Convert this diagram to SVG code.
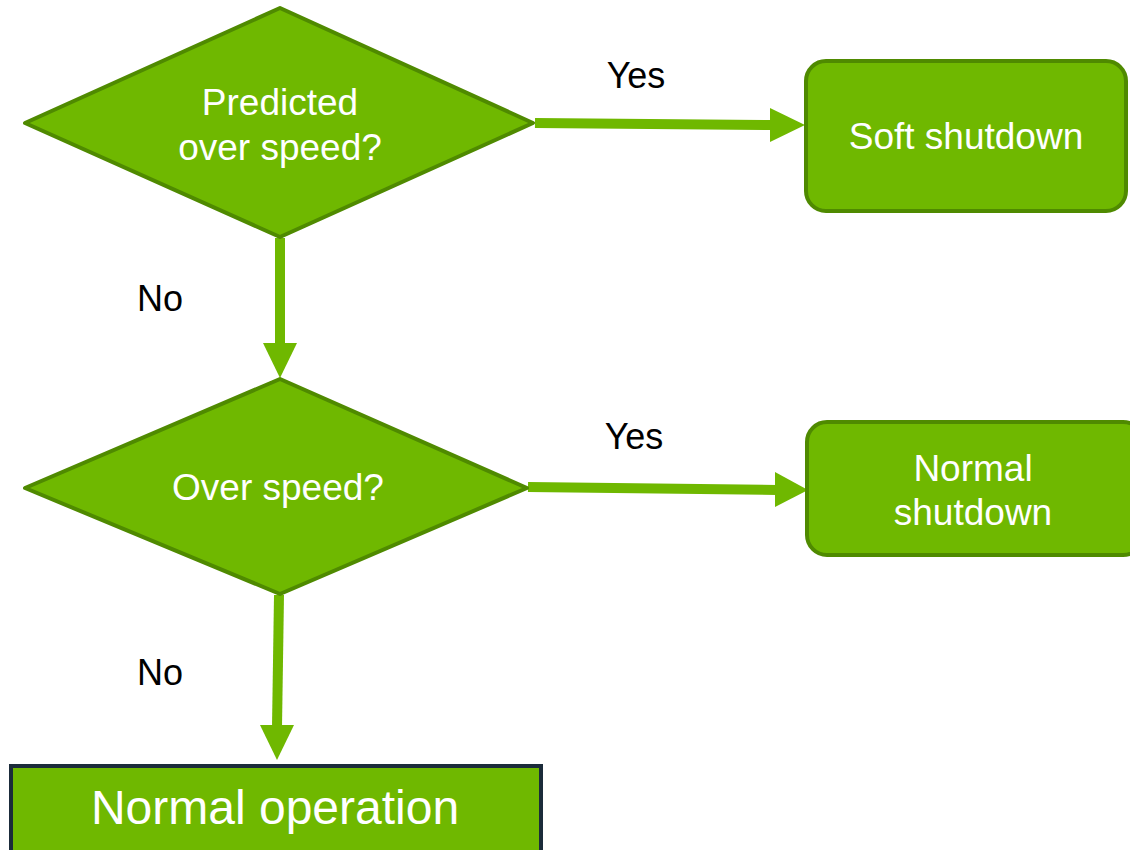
<svg xmlns="http://www.w3.org/2000/svg" width="1130" height="850" viewBox="0 0 1130 850">
<style>
.shape{fill:#6fb800;stroke:#4f8a00;stroke-width:4;stroke-linejoin:round}
.wt{font-family:"Liberation Sans",Arial,sans-serif;font-size:37px;fill:#ffffff;text-anchor:middle}
.lbl{font-family:"Liberation Sans",Arial,sans-serif;font-size:36px;fill:#000000;text-anchor:middle}
.conn{stroke:#6fb800;stroke-width:10;fill:none}
.head{fill:#6fb800}
</style>
<rect width="1130" height="850" fill="#ffffff"/>
<g id="connectors">
<line class="conn" x1="535" y1="123" x2="772" y2="125"/>
<polygon class="head" points="770,108 805,125 770,142"/>
<line class="conn" x1="280" y1="238" x2="280" y2="345"/>
<polygon class="head" points="263,343 297,343 280,378"/>
<line class="conn" x1="528" y1="487" x2="777" y2="490"/>
<polygon class="head" points="775,472 808,490 775,507"/>
<line class="conn" x1="279" y1="595" x2="277" y2="727"/>
<polygon class="head" points="260,725 294,725 277,760"/>
<text class="lbl" x="636" y="88">Yes</text>
<text class="lbl" x="160" y="311">No</text>
<text class="lbl" x="634" y="449">Yes</text>
<text class="lbl" x="160" y="685">No</text>
</g>
<g id="d1">
<polygon class="shape" points="25,123 280,8 533,123 280,237"/>
<text class="wt" x="280" y="115">Predicted</text>
<text class="wt" x="280" y="160">over speed?</text>
</g>
<g id="soft">
<rect class="shape" x="806" y="61" width="320" height="150" rx="20"/>
<text class="wt" x="966" y="149">Soft shutdown</text>
</g>
<g id="d2">
<polygon class="shape" points="25,488 280,379 527,488 280,594"/>
<text class="wt" x="278" y="500">Over speed?</text>
</g>
<g id="normalshut">
<rect class="shape" x="807" y="422" width="336" height="133" rx="20"/>
<text class="wt" x="973" y="481">Normal</text>
<text class="wt" x="973" y="525">shutdown</text>
</g>
<g id="normalop">
<rect x="11" y="766" width="530" height="100" fill="#6fb800" stroke="#1b2b3a" stroke-width="4"/>
<text class="wt" x="275" y="824" style="font-size:48px">Normal operation</text>
</g>
</svg>
